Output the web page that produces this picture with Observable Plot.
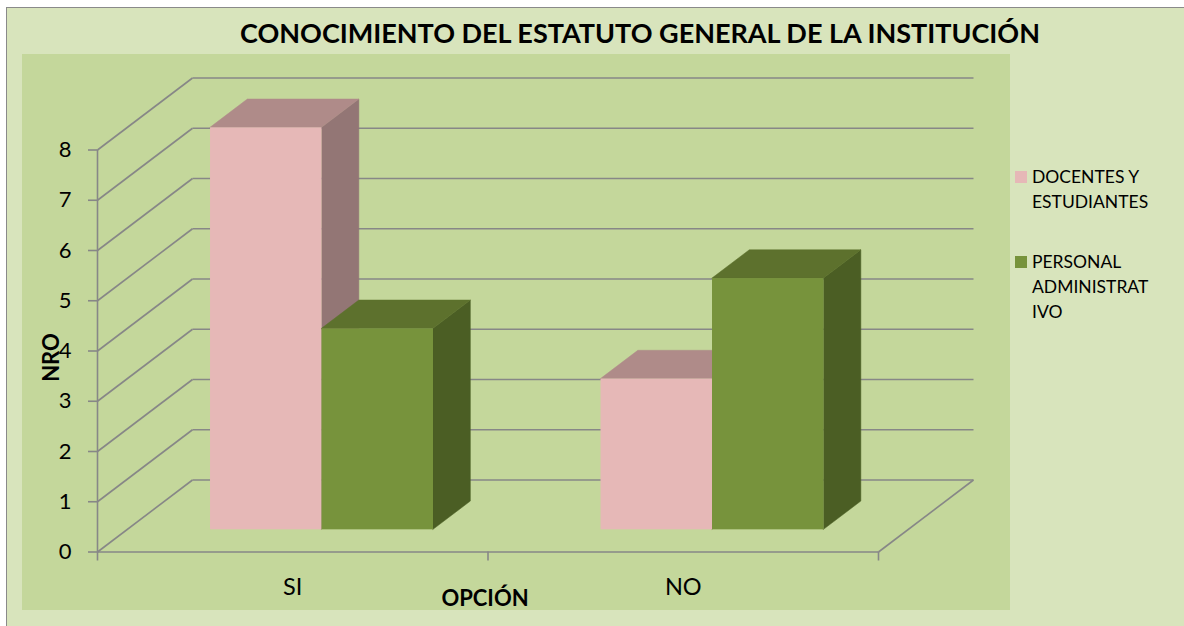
<!DOCTYPE html>
<html>
<head>
<meta charset="utf-8">
<script src="https://cdn.jsdelivr.net/npm/d3@7"></script>
<script src="https://cdn.jsdelivr.net/npm/@observablehq/plot@0.6"></script>
<style>
  html, body { margin: 0; padding: 0; background: #ffffff; overflow: hidden; }
  #page { position: relative; width: 1184px; height: 626px; overflow: hidden; font-family: Lato, "Open Sans", sans-serif; }
  #chartbox { position: absolute; left: 6px; top: 7px; width: 1190px; height: 630px; background: #D8E4BC; border-left: 1.5px solid #8a8a8a; border-top: 1.5px solid #8a8a8a; }
  #plotarea { position: absolute; left: 22px; top: 54px; width: 988px; height: 556px; background: #C4D79B; }
  #title { position: absolute; left: 140px; width: 1000px; top: 16.5px; text-align: center; font-weight: bold; font-size: 27px; line-height: 1.2; color: #000; white-space: nowrap; }
  #plot { position: absolute; left: 0; top: 0; }
  #legend { position: absolute; left: 1015px; top: 164px; font-size: 17.5px; line-height: 25px; color: #000; }
  .item { display: flex; align-items: flex-start; margin-bottom: 35px; }
  .sw { width: 12px; height: 12px; margin-top: 7px; margin-right: 5px; flex: none; }
  .lab { white-space: pre-line; }
</style>
</head>
<body>
<div id="page">
  <div id="chartbox"></div>
  <div id="plotarea"></div>
  <div id="title"></div>
  <div id="plot"></div>
  <div id="legend"></div>
</div>
<script>
// ---- data ----
const titleText = "CONOCIMIENTO DEL ESTATUTO GENERAL DE LA INSTITUCIÓN";
const opciones = ["SI", "NO"];
const seriesNames = ["DOCENTES Y ESTUDIANTES", "PERSONAL ADMINISTRATIVO"];
const legendLabels = ["DOCENTES Y\nESTUDIANTES", "PERSONAL\nADMINISTRAT\nIVO"];
const docentesEstudiantes = [8, 3];
const personalAdministrativo = [4, 5];
const yTicks = [0, 1, 2, 3, 4, 5, 6, 7, 8];
const xLabel = "OPCIÓN";
const yLabel = "NRO";

// ---- styles ----
const frontColors = ["#E6B8B7", "#77933C"];
const topColors = ["#AF8B89", "#5D712D"];
const sideColors = ["#937675", "#4B5E24"];
const gridColor = "#878787";

document.getElementById("title").textContent = titleText;

// ---- geometry (3D depth offsets) ----
const W = 1184, H = 626;
const mL = 97, mR = 306, mT = 149.5, mB = 74.5;
const xUnit = (W - mL - mR) / opciones.length;   // px per category
const yUnit = (H - mT - mB) / 8;                   // px per unit value
const DX = 95 / xUnit, DY = 72 / yUnit;            // full wall depth in data units
const barStart = 0.2145, barW = 0.2855;
const d0 = 0.308, d1 = 0.701;                      // bar front/back depth fraction

const valuesBySeries = [docentesEstudiantes, personalAdministrativo];
const bars = [];
valuesBySeries.forEach((vals, s) => {
  vals.forEach((v, i) => {
    const x0 = i + barStart + s * barW;
    bars.push({id: s + "-" + i, s, cat: opciones[i], v, x0, x1: x0 + barW});
  });
});
const topPts = bars.flatMap(b => [d0, d1].map(d => ({id: b.id, s: b.s, y: b.v + d * DY, x1: b.x0 + d * DX, x2: b.x1 + d * DX})));
const sidePts = bars.flatMap(b => [d0, d1].map(d => ({id: b.id, s: b.s, x: b.x1 + d * DX, y1: d * DY, y2: b.v + d * DY})));

const barMarks = [0, 1].flatMap(s => [
  Plot.area(sidePts.filter(p => p.s === s), {x1: "x", y1: "y1", y2: "y2", z: "id", fill: sideColors[s], stroke: sideColors[s], strokeWidth: 0.5}),
  Plot.area(topPts.filter(p => p.s === s), {y1: "y", x1: "x1", x2: "x2", z: "id", fill: topColors[s], stroke: topColors[s], strokeWidth: 0.5}),
  Plot.rect(bars.filter(b => b.s === s), {x1: b => b.x0 + d0 * DX, x2: b => b.x1 + d0 * DX, y1: d0 * DY, y2: b => b.v + d0 * DY, fill: frontColors[s]})
]);

const lineStyle = {stroke: gridColor, strokeWidth: 1.6};

const chart = Plot.plot({
  width: W, height: H,
  marginLeft: mL, marginRight: mR, marginTop: mT, marginBottom: mB,
  x: {type: "linear", domain: [0, opciones.length]},
  y: {type: "linear", domain: [0, 8]},
  style: {background: "transparent", fontFamily: "Lato, 'Open Sans', sans-serif", overflow: "visible", color: "#000"},
  marks: [
    // back wall gridlines
    Plot.link(yTicks, {x1: DX, x2: opciones.length + DX, y1: v => v + DY, y2: v => v + DY, ...lineStyle}),
    // side wall diagonals
    Plot.link(yTicks, {x1: 0, y1: v => v, x2: DX, y2: v => v + DY, ...lineStyle}),
    // floor right edge
    Plot.link([0], {x1: opciones.length, y1: 0, x2: opciones.length + DX, y2: DY, ...lineStyle}),
    // front axis lines
    Plot.ruleX([0], {y1: 0, y2: 8, ...lineStyle}),
    Plot.ruleY([0], {x1: 0, x2: opciones.length, ...lineStyle}),
    ...barMarks,
    Plot.axisY({ticks: yTicks, tickSize: 9, tickPadding: 17, fontSize: 22, stroke: gridColor, strokeWidth: 1.6, fill: "#000", label: null}),
    Plot.axisX({ticks: d3.range(opciones.length + 1), tickSize: 9, tickFormat: () => "", stroke: gridColor, strokeWidth: 1.6, label: null}),
    Plot.axisX({ticks: opciones.map((_, i) => i + 0.5), tickSize: 0, tickPadding: 26, tickFormat: d => opciones[Math.floor(d)], fontSize: 23.5, fill: "#000", label: null}),
    Plot.text([xLabel], {text: d => d, frameAnchor: "bottom", dy: 54, dx: -3, fontWeight: "bold", fontSize: 22, fill: "#000"}),
    Plot.text([yLabel], {text: d => d, frameAnchor: "left", textAnchor: "middle", dx: -46, dy: 6.5, rotate: -90, fontWeight: "bold", fontSize: 22, fill: "#000"})
  ]
});
document.getElementById("plot").appendChild(chart);

// legend
const legend = document.getElementById("legend");
seriesNames.forEach((name, s) => {
  const item = document.createElement("div");
  item.className = "item";
  item.title = name;
  const sw = document.createElement("div");
  sw.className = "sw";
  sw.style.background = frontColors[s];
  const lab = document.createElement("div");
  lab.className = "lab";
  lab.textContent = legendLabels[s];
  item.appendChild(sw); item.appendChild(lab);
  legend.appendChild(item);
});
</script>
</body>
</html>
